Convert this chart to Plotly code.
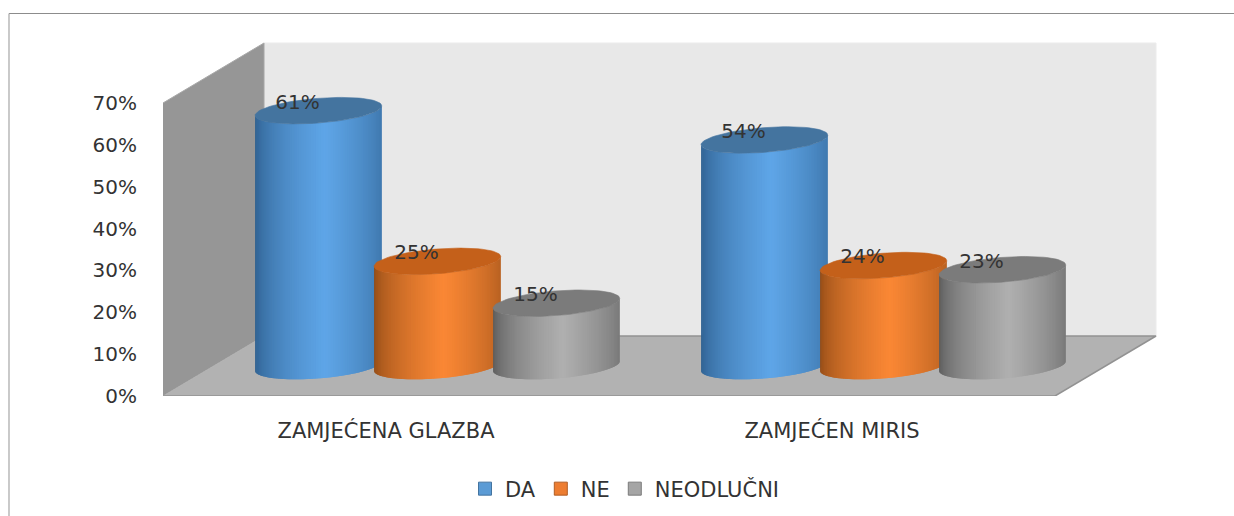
import numpy as np
import plotly.graph_objects as go

categories = ["ZAMJEĆENA GLAZBA", "ZAMJEĆEN MIRIS"]
series_names = ["DA", "NE", "NEODLUČNI"]
da_values = [61, 54]
ne_values = [25, 24]
neodlucni_values = [15, 23]
y_ticks = [0, 10, 20, 30, 40, 50, 60, 70]

series_values = [da_values, ne_values, neodlucni_values]
FONT = "DejaVu Sans"
TEXT = "#333333"
LIGHT = ["#5fa6e8", "#fb8835", "#b0b0b0"]
DARK = ["#2d5d8c", "#8f4a16", "#585858"]
TOP = ["#44749f", "#c4601a", "#7b7b7b"]
SWATCH = ["#5b9bd5", "#ed7d31", "#a5a5a5"]

DX, DY = 0.2265, 14.33      # box depth in axis units
N_CAT = len(categories)
X0, X1 = -0.5, N_CAT - 0.5
XMAX = 1.9013
YMAX = 94.6
YTOP = max(y_ticks)
SLOT = 0.2668
RX, RY, TILT = 0.142, 2.95, 1.15


def hexrgb(c):
    return np.array([int(c[i:i + 2], 16) for i in (1, 3, 5)], float)


def mix(a, b, t):
    v = hexrgb(a) * (1 - t) + hexrgb(b) * t
    return "rgb(%d,%d,%d)" % tuple(v)


fig = go.Figure()


def poly(xs, ys, fill, line=None, width=1):
    fig.add_trace(go.Scatter(
        x=list(xs), y=list(ys), mode="lines", fill="toself", fillcolor=fill,
        line=dict(color=line or fill, width=width), hoverinfo="skip",
        showlegend=False, cliponaxis=False))


# box: back wall, left wall, floor
poly([X0 + DX, X1 + DX, X1 + DX, X0 + DX],
     [YTOP + DY, YTOP + DY, DY, DY], "#e8e8e8", "#ececec")
poly([X0, X0 + DX, X0 + DX, X0], [YTOP, YTOP + DY, DY, 0], "#969696", "#a8a8a8")
poly([X0, X1, X1 + DX, X0 + DX], [0, 0, DY, DY], "#b2b2b2", "#929292", 1.5)

theta = np.linspace(np.pi, 0, 81)
label_x, label_y, label_t = [], [], []
for c in range(N_CAT):
    for s in range(len(series_names)):
        v = series_values[s][c]
        cx = c + DX / 2 + (s - 1) * SLOT + 0.002
        base = DY / 2
        top = base + v
        u = np.cos(theta)
        low = -RY * np.sin(theta) + TILT * u
        n = len(theta)
        for i in range(n - 1):
            j = min(i + 2, n - 1)     # reach under the next strip to hide seams
            um = (u[i] + u[i + 1]) / 2
            t = np.clip(1 - abs(um - 0.1) / 1.1, 0, 1) ** 0.55
            col = mix(DARK[s], LIGHT[s], t)
            xs = [cx + RX * u[i], cx + RX * u[j], cx + RX * u[j], cx + RX * u[i]]
            ys = [base + low[i], base + low[j], top + low[j], top + low[i]]
            poly(xs, ys, col, "rgba(0,0,0,0)", 0)
        a = np.linspace(0, 2 * np.pi, 80)
        poly(cx + RX * np.cos(a), top + RY * np.sin(a) + TILT * np.cos(a), TOP[s], TOP[s], 0.6)
        label_x.append(cx - 0.047)
        label_y.append(top + 1.7)
        label_t.append(f"{v}%")

fig.add_trace(go.Scatter(
    x=label_x, y=label_y, text=label_t, mode="text", textposition="middle center",
    textfont=dict(family=FONT, size=20, color=TEXT), hoverinfo="skip",
    showlegend=False, cliponaxis=False))

for name, col in zip(series_names, SWATCH):
    fig.add_trace(go.Scatter(
        x=[None], y=[None], mode="markers", name=name,
        marker=dict(symbol="square", size=13, color=col,
                    line=dict(color=mix(col, "#000000", 0.25), width=1))))

fig.update_layout(
    width=1234, height=516, autosize=False,
    margin=dict(l=163, r=0, t=0, b=120, pad=0),
    paper_bgcolor="white", plot_bgcolor="white",
    font=dict(family=FONT, size=20, color=TEXT),
    xaxis=dict(range=[X0, XMAX], tickvals=list(range(N_CAT)), ticktext=categories,
               showgrid=False, zeroline=False, showline=False, ticks="",
               ticklabelstandoff=20, tickfont=dict(family=FONT, size=21, color=TEXT)),
    yaxis=dict(range=[0, YMAX], tickvals=y_ticks, ticktext=[f"{t}%" for t in y_ticks],
               showgrid=False, zeroline=False, showline=False, ticks="",
               ticklabelstandoff=25, tickfont=dict(family=FONT, size=20, color=TEXT)),
    legend=dict(orientation="h", x=(465 - 163) / 1071, xref="paper", y=-93 / 396, yref="paper",
                xanchor="left", yanchor="middle", bgcolor="rgba(0,0,0,0)",
                font=dict(family=FONT, size=21, color=TEXT),
                itemclick=False, itemdoubleclick=False),
    shapes=[
        dict(type="line", xref="paper", yref="paper",
             x0=(9 - 163) / 1071, x1=1, y0=(396 - 13.5) / 396, y1=(396 - 13.5) / 396,
             line=dict(color="#8c8c8c", width=1.2)),
        dict(type="line", xref="paper", yref="paper",
             x0=(9 - 163) / 1071, x1=(9 - 163) / 1071, y0=(396 - 13.5) / 396, y1=-120 / 396,
             line=dict(color="#a6a6a6", width=1.2)),
    ],
    showlegend=True,
)

fig.write_html("out.html", config={"displayModeBar": False},
               post_script="document.body.style.margin='0';")
